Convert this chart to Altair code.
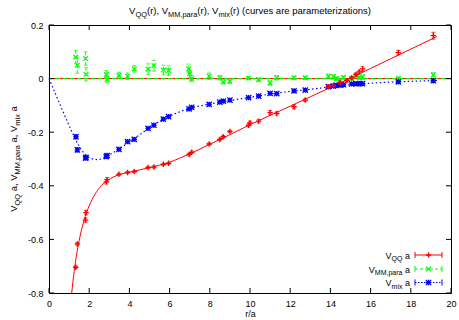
import altair as alt
import pandas as pd

FONT = "Liberation Sans"
RED, GREEN, BLUE = "#ff0000", "#00ff00", "#0000ff"

# ---------------- data ----------------
x_ticks = [0, 2, 4, 6, 8, 10, 12, 14, 16, 18, 20]
y_ticks = [-0.8, -0.6, -0.4, -0.2, 0.0, 0.2]

# V_QQ a  (points with errors)
qq_r = [1.33, 1.41, 1.82, 1.84, 2.85, 2.89, 3.48, 3.91, 4.24, 4.93, 5.22, 5.69, 5.95,
        6.97, 7.10, 7.97, 8.50, 8.67, 9.00, 9.93, 10.00, 10.43, 11.00, 11.33, 12.19, 12.75,
        13.90, 14.15, 14.48, 14.81, 15.06, 15.27, 15.44, 15.60, 17.38, 19.12]
qq_v = [-0.704, -0.617, -0.528, -0.500, -0.385, -0.377, -0.357, -0.350, -0.347, -0.332, -0.330, -0.320, -0.316,
        -0.283, -0.275, -0.244, -0.227, -0.217, -0.197, -0.174, -0.165, -0.159, -0.127, -0.130, -0.105, -0.080,
        -0.030, -0.025, -0.015, -0.008, 0.003, 0.015, 0.025, 0.036, 0.097, 0.160]
qq_e = [0.005, 0.005, 0.008, 0.008, 0.008, 0.008, 0.004, 0.004, 0.004, 0.004, 0.004, 0.004, 0.004,
        0.005, 0.005, 0.004, 0.005, 0.005, 0.004, 0.006, 0.006, 0.006, 0.008, 0.006, 0.008, 0.005,
        0.005, 0.005, 0.005, 0.005, 0.005, 0.006, 0.006, 0.008, 0.008, 0.013]
# V_QQ parameterization curve
qq_curve_r = [1.13, 1.25, 1.4, 1.6, 1.8, 2.0, 2.3, 2.6, 2.9, 3.2, 3.6, 4.0, 4.5, 5.0, 5.5, 6.0,
              6.5, 7.0, 7.5, 8.0, 9.0, 10.0, 11.0, 12.0, 13.0, 14.0, 15.0, 16.0, 17.0, 18.0, 19.0, 19.3]
qq_curve_v = [-0.80, -0.72, -0.645, -0.57, -0.515, -0.475, -0.43, -0.40, -0.38, -0.367, -0.356, -0.349,
              -0.341, -0.332, -0.323, -0.312, -0.297, -0.281, -0.263, -0.245, -0.209, -0.172, -0.137,
              -0.103, -0.068, -0.033, 0.002, 0.038, 0.074, 0.110, 0.146, 0.157]

# V_MM,para a
mm_r = [1.33, 1.41, 1.82, 1.84, 2.85, 2.89, 3.48, 3.91, 4.24, 4.93, 5.22, 5.69, 5.95,
        6.95, 6.99, 7.10, 7.97, 8.50, 8.67, 9.00, 9.93, 10.43, 11.00, 11.33, 12.19, 12.75,
        13.90, 14.15, 14.30, 14.48, 14.65, 15.06, 15.27, 15.44, 15.60, 17.38, 19.12]
mm_v = [0.080, 0.050, 0.075, 0.016, 0.015, -0.003, 0.012, 0.009, 0.036, 0.035, 0.048, 0.032, 0.030,
        0.036, 0.018, 0.000, 0.009, 0.003, -0.012, -0.010, 0.002, -0.004, -0.016, 0.003, 0.003, 0.003,
        0.009, 0.007, 0.000, -0.007, 0.004, 0.000, 0.011, 0.004, 0.006, 0.000, 0.014]
mm_e = [0.025, 0.030, 0.025, 0.025, 0.015, 0.013, 0.012, 0.012, 0.012, 0.020, 0.020, 0.018, 0.018,
        0.018, 0.015, 0.012, 0.012, 0.008, 0.008, 0.008, 0.006, 0.006, 0.008, 0.008, 0.006, 0.006,
        0.008, 0.008, 0.006, 0.006, 0.006, 0.006, 0.008, 0.006, 0.008, 0.006, 0.008]
mm_curve_r = [0, 20]
mm_curve_v = [0.0, 0.0]

# V_mix a
mix_r = [1.34, 1.41, 1.82, 1.84, 2.85, 2.89, 3.48, 3.91, 4.24, 4.93, 5.22, 5.69, 5.95,
         6.97, 7.10, 7.97, 8.50, 8.67, 9.00, 9.93, 10.43, 11.00, 11.33, 12.19, 12.75,
         13.90, 14.15, 14.30, 14.48, 14.65, 15.06, 15.27, 15.44, 15.60, 17.38, 19.12]
mix_v = [-0.217, -0.266, -0.297, -0.294, -0.291, -0.287, -0.264, -0.235, -0.227, -0.186, -0.174, -0.151, -0.142,
         -0.113, -0.107, -0.096, -0.088, -0.084, -0.080, -0.071, -0.065, -0.055, -0.056, -0.046, -0.043,
         -0.030, -0.028, -0.025, -0.024, -0.023, -0.020, -0.019, -0.019, -0.019, -0.012, -0.008]
mix_e = [0.008, 0.008, 0.006, 0.006, 0.006, 0.006, 0.005, 0.004, 0.004, 0.004, 0.004, 0.004, 0.004,
         0.004, 0.004, 0.003, 0.003, 0.003, 0.003, 0.003, 0.003, 0.003, 0.003, 0.003, 0.003,
         0.003, 0.003, 0.003, 0.003, 0.003, 0.003, 0.003, 0.003, 0.003, 0.003, 0.003]
mix_curve_r = [0, 0.5, 1.0, 1.5, 1.8, 2.1, 2.4, 2.7, 3.0, 3.5, 4.0, 4.5, 5.0, 5.5, 6.0, 6.5, 7.0,
               8.0, 9.0, 10.0, 11.0, 12.0, 13.0, 14.0, 15.0, 16.0, 17.0, 18.0, 19.0, 19.3]
mix_curve_v = [0.0, -0.088, -0.175, -0.252, -0.283, -0.298, -0.302, -0.297, -0.285, -0.262, -0.236,
               -0.21, -0.184, -0.16, -0.14, -0.124, -0.111, -0.095, -0.082, -0.07, -0.058, -0.048,
               -0.04, -0.031, -0.023, -0.017, -0.013, -0.010, -0.008, -0.007]

# ---------------- helpers ----------------
W, H = 402, 268
x_scale = alt.Scale(domain=[0, 20], nice=False, zero=False)
y_scale = alt.Scale(domain=[-0.8, 0.2], nice=False, zero=False)

xaxis = alt.Axis(values=x_ticks, ticks=False, tickSize=0, domain=False, grid=False, format="d",
                 labelFont=FONT, labelFontSize=9, labelColor="black", labelPadding=6,
                 labelFlush=False, labelOverlap=False,
                 title="r/a", titleFont=FONT, titleFontSize=9, titleFontWeight="normal",
                 titleColor="black", titlePadding=1)
yaxis = alt.Axis(values=y_ticks, ticks=False, tickSize=0, domain=False, grid=False,
                 labelExpr="abs(datum.value) < 1e-9 ? '0' : (datum.value < 0 ? '-' + format(-datum.value, '.1f') : format(datum.value, '.1f'))",
                 labelFont=FONT, labelFontSize=9, labelColor="black", labelPadding=6,
                 labelFlush=False, labelOverlap=False, title=None)


def X(f):
    return alt.X(f, type="quantitative", scale=x_scale, axis=xaxis)


def Y(f):
    return alt.Y(f, type="quantitative", scale=y_scale, axis=yaxis)


def series_df(r, v, e):
    return pd.DataFrame({"r": r, "v": v,
                         "lo": [a - b for a, b in zip(v, e)],
                         "hi": [a + b for a, b in zip(v, e)]})


PLUS = "M-1,0L1,0M0,-1L0,1"
CROSS = "M-1,-1L1,1M-1,1L1,-1"
STAR = "M-1,0L1,0M0,-1L0,1M-1,-1L1,1M-1,1L1,-1"

layers = []

# curves
zero_df = pd.DataFrame({"r": mm_curve_r, "v": mm_curve_v})
layers.append(alt.Chart(zero_df).mark_line(color=RED, strokeWidth=1).encode(x=X("r"), y=Y("v")))
layers.append(alt.Chart(zero_df).mark_line(color=GREEN, strokeWidth=1, strokeDash=[4, 3]).encode(x=X("r"), y=Y("v")))
layers.append(alt.Chart(pd.DataFrame({"r": mix_curve_r, "v": mix_curve_v})).mark_line(
    color=BLUE, strokeWidth=1.2, strokeDash=[1.5, 2.5], interpolate="monotone").encode(x=X("r"), y=Y("v")))
layers.append(alt.Chart(pd.DataFrame({"r": qq_curve_r, "v": qq_curve_v})).mark_line(
    color=RED, strokeWidth=1, interpolate="monotone").encode(x=X("r"), y=Y("v")))

# error bars + points
for r, v, e, col, dash, shape, sz in [
    (mm_r, mm_v, mm_e, GREEN, [3, 2], CROSS, 22),
    (mix_r, mix_v, mix_e, BLUE, [1.5, 1.5], STAR, 28),
    (qq_r, qq_v, qq_e, RED, None, PLUS, 30),
]:
    d = series_df(r, v, e)
    rule_kw = dict(color=col, strokeWidth=1)
    if dash:
        rule_kw["strokeDash"] = dash
    layers.append(alt.Chart(d).mark_rule(**rule_kw).encode(x=X("r"), y=Y("lo"), y2=alt.Y2("hi")))
    layers.append(alt.Chart(d).mark_tick(orient="horizontal", color=col, size=4, thickness=1).encode(x=X("r"), y=Y("lo")))
    layers.append(alt.Chart(d).mark_tick(orient="horizontal", color=col, size=4, thickness=1).encode(x=X("r"), y=Y("hi")))
    layers.append(alt.Chart(d).mark_point(shape=shape, size=sz, filled=False, color=col, strokeWidth=1.3,
                                          opacity=1).encode(x=X("r"), y=Y("v")))

# inward ticks on all four sides
xt_df = pd.DataFrame({"t": x_ticks})
yt_df = pd.DataFrame({"t": y_ticks})
layers.append(alt.Chart(xt_df).mark_rule(color="black", strokeWidth=1).encode(x=X("t"), y=alt.value(H), y2=alt.value(H - 5)))
layers.append(alt.Chart(xt_df).mark_rule(color="black", strokeWidth=1).encode(x=X("t"), y=alt.value(0), y2=alt.value(5)))
layers.append(alt.Chart(yt_df).mark_rule(color="black", strokeWidth=1).encode(y=Y("t"), x=alt.value(0), x2=alt.value(5)))
layers.append(alt.Chart(yt_df).mark_rule(color="black", strokeWidth=1).encode(y=Y("t"), x=alt.value(W), x2=alt.value(W - 5)))

# ---------------- rich text (with subscripts) ----------------
CW = {' ': 0.278, '(': 0.333, ')': 0.333, ',': 0.278, '.': 0.278, '/': 0.278, 'V': 0.667, 'Q': 0.778,
      'M': 0.833, 'a': 0.556, 'c': 0.5, 'e': 0.556, 'i': 0.222, 'm': 0.833, 'n': 0.556, 'o': 0.556,
      'p': 0.556, 'r': 0.333, 's': 0.5, 't': 0.278, 'u': 0.556, 'v': 0.5, 'x': 0.5, 'z': 0.5}
ONE = pd.DataFrame({"k": [0]})


def tw(s, fs):
    return sum(CW.get(ch, 0.556) for ch in s) * fs


def rich(segs, x, y, fs, angle=0, anchor="center"):
    sfs = fs * 0.78
    shift = fs * 0.3
    widths = [tw(t, sfs if s else fs) for t, s in segs]
    total = sum(widths)
    pos = {"center": -total / 2, "right": -total, "left": 0}[anchor]
    out = []
    for (t, s), w in zip(segs, widths):
        size = sfs if s else fs
        lead = len(t) - len(t.lstrip(" "))
        p = pos + lead * CW[" "] * size
        txt = t.strip(" ")
        if txt:
            if angle == 0:
                px, py = x + p, y + (shift if s else 0)
            else:
                px, py = x + (shift if s else 0), y - p
            out.append(alt.Chart(ONE).mark_text(text=txt, align="left", baseline="alphabetic", font=FONT,
                                                fontSize=size, angle=angle, color="black")
                       .encode(x=alt.value(px), y=alt.value(py)))
        pos += w
    return out


title_segs = [("V", 0), ("QQ", 1), ("(r), V", 0), ("MM,para", 1), ("(r), V", 0), ("mix", 1),
              ("(r) (curves are parameterizations)", 0)]
layers += rich(title_segs, 201, -11, 9.5)

ytitle_segs = [("V", 0), ("QQ", 1), (" a, V", 0), ("MM,para", 1), (" a, V", 0), ("mix", 1), (" a", 0)]
layers += rich(ytitle_segs, -32, 134, 9.5, angle=270)

# legend
leg_rows = [
    ([("V", 0), ("QQ", 1), (" a", 0)], RED, None, PLUS, 30, 230),
    ([("V", 0), ("MM,para", 1), (" a", 0)], GREEN, [3, 2], CROSS, 22, 244),
    ([("V", 0), ("mix", 1), (" a", 0)], BLUE, [1.5, 1.5], STAR, 28, 257.5),
]
for segs, col, dash, shape, sz, yy in leg_rows:
    layers += rich(segs, 361, yy + 3.5, 9, anchor="right")
    kw = dict(color=col, strokeWidth=1)
    if dash:
        kw["strokeDash"] = dash
    layers.append(alt.Chart(ONE).mark_rule(**kw).encode(x=alt.value(366), x2=alt.value(393), y=alt.value(yy)))
    for cx in (366, 393):
        layers.append(alt.Chart(ONE).mark_rule(color=col, strokeWidth=1).encode(
            x=alt.value(cx), y=alt.value(yy - 3), y2=alt.value(yy + 3)))
    layers.append(alt.Chart(ONE).mark_point(shape=shape, size=sz, filled=False, color=col, strokeWidth=1.3,
                                            opacity=1).encode(x=alt.value(379.5), y=alt.value(yy)))

chart = alt.layer(*layers).properties(
    width=W, height=H,
    autosize=alt.AutoSizeParams(type="none"),
    padding={"left": 49, "top": 25, "right": 8, "bottom": 27},
    background="white",
).configure_view(stroke="black", strokeWidth=1)

chart.save("out.html", embed_options={"renderer": "svg", "actions": False})
